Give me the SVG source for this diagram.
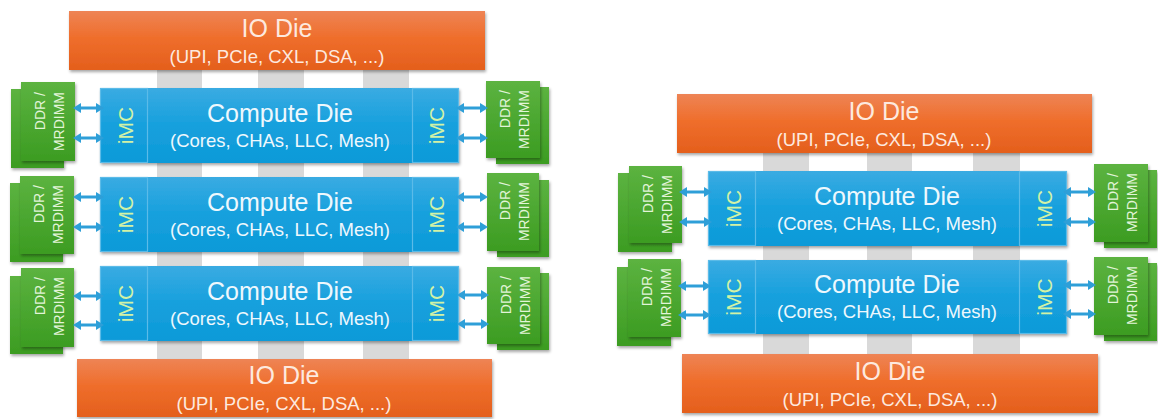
<svg xmlns="http://www.w3.org/2000/svg" width="1158" height="419" viewBox="0 0 1158 419">
<defs>
<linearGradient id="gOr" x1="0" y1="0" x2="0" y2="1"><stop offset="0" stop-color="#ee8455"/><stop offset="0.45" stop-color="#ef6e2c"/><stop offset="1" stop-color="#e45f1c"/></linearGradient>
<linearGradient id="gBl" x1="0" y1="0" x2="0" y2="1"><stop offset="0" stop-color="#3aabe2"/><stop offset="0.5" stop-color="#16a0dd"/><stop offset="1" stop-color="#0d9ad8"/></linearGradient>
<linearGradient id="gGr" x1="0" y1="0" x2="0" y2="1"><stop offset="0" stop-color="#5cb340"/><stop offset="1" stop-color="#3c9c22"/></linearGradient>
<filter id="sh" x="-10%" y="-10%" width="125%" height="130%"><feDropShadow dx="1" dy="2" stdDeviation="1.5" flood-color="#000" flood-opacity="0.35"/></filter>
<marker id="ah" viewBox="0 0 8 10" refX="1" refY="5" markerWidth="8" markerHeight="10" markerUnits="userSpaceOnUse" orient="auto-start-reverse"><path d="M0,0 L8,5 L0,10 Z" fill="#2e9fd8"/></marker>
</defs>
<style>
.io{fill:url(#gOr);filter:url(#sh)}
.cd{fill:url(#gBl);filter:url(#sh)}
.imc{fill:none;stroke:#5bbbe8;stroke-width:1.2}
.bar{fill:#d9d9d9}
.dimm{fill:url(#gGr);filter:url(#sh)}
.t1{font-family:"Liberation Sans",Arial,sans-serif;font-size:25px;text-anchor:middle}
.t2{font-family:"Liberation Sans",Arial,sans-serif;font-size:18.5px;text-anchor:middle}
.iot{fill:#fde9df}
.cdt{fill:#eef8fd}
.imct{font-family:"Liberation Sans",Arial,sans-serif;font-size:21px;text-anchor:middle;fill:#d2f2a6}
.dt{font-family:"Liberation Sans",Arial,sans-serif;font-size:14px;text-anchor:end;fill:#e2f4d8}
.arr{stroke:#2e9fd8;stroke-width:3;fill:none;marker-start:url(#ah);marker-end:url(#ah)}
</style>

<!-- Left diagram -->
<g id="L-bars">
<rect class="bar" x="157" y="70" width="45" height="289"/>
<rect class="bar" x="258" y="70" width="46" height="289"/>
<rect class="bar" x="363" y="70" width="46" height="289"/>
</g>
<g id="L-io-top">
<rect class="io" x="69" y="11" width="416" height="59"/>
<text class="t1 iot" x="277" y="37">IO Die</text>
<text class="t2 iot" x="277" y="63">(UPI, PCIe, CXL, DSA, ...)</text>
</g>
<g id="L-io-bot">
<rect class="io" x="77" y="359" width="415" height="58"/>
<text class="t1 iot" x="284" y="384">IO Die</text>
<text class="t2 iot" x="284" y="410">(UPI, PCIe, CXL, DSA, ...)</text>
</g>

<g id="L-cd1">
<rect class="cd" x="100" y="88" width="359" height="75"/>
<rect class="imc" x="100.5" y="88.5" width="47" height="74"/>
<rect class="imc" x="412.5" y="88.5" width="46" height="74"/>
<text class="t1 cdt" x="280" y="122">Compute Die</text>
<text class="t2 cdt" x="280" y="147">(Cores, CHAs, LLC, Mesh)</text>
<text class="imct" transform="translate(133,125.5) rotate(-90)">iMC</text>
<text class="imct" transform="translate(444,125.5) rotate(-90)">iMC</text>
</g>
<g id="L-cd2">
<rect class="cd" x="100" y="177" width="359" height="75"/>
<rect class="imc" x="100.5" y="177.5" width="47" height="74"/>
<rect class="imc" x="412.5" y="177.5" width="46" height="74"/>
<text class="t1 cdt" x="280" y="211">Compute Die</text>
<text class="t2 cdt" x="280" y="236">(Cores, CHAs, LLC, Mesh)</text>
<text class="imct" transform="translate(133,214.5) rotate(-90)">iMC</text>
<text class="imct" transform="translate(444,214.5) rotate(-90)">iMC</text>
</g>
<g id="L-cd3">
<rect class="cd" x="100" y="266" width="359" height="75"/>
<rect class="imc" x="100.5" y="266.5" width="47" height="74"/>
<rect class="imc" x="412.5" y="266.5" width="46" height="74"/>
<text class="t1 cdt" x="280" y="300">Compute Die</text>
<text class="t2 cdt" x="280" y="325">(Cores, CHAs, LLC, Mesh)</text>
<text class="imct" transform="translate(133,303.5) rotate(-90)">iMC</text>
<text class="imct" transform="translate(444,303.5) rotate(-90)">iMC</text>
</g>

<g id="L-dimm1l">
<rect class="dimm" x="11" y="89" width="53" height="79"/>
<rect class="dimm" x="21" y="82" width="54" height="79"/>
<text class="dt" transform="translate(45,92) rotate(-90)">DDR /</text>
<text class="dt" transform="translate(64,92) rotate(-90)">MRDIMM</text>
</g>
<g id="L-dimm2l">
<rect class="dimm" x="10" y="183" width="53" height="79"/>
<rect class="dimm" x="20" y="176" width="54" height="78"/>
<text class="dt" transform="translate(44,185) rotate(-90)">DDR /</text>
<text class="dt" transform="translate(63,185) rotate(-90)">MRDIMM</text>
</g>
<g id="L-dimm3l">
<rect class="dimm" x="10" y="276" width="53" height="78"/>
<rect class="dimm" x="21" y="268" width="53" height="79"/>
<text class="dt" transform="translate(45,277) rotate(-90)">DDR /</text>
<text class="dt" transform="translate(64,277) rotate(-90)">MRDIMM</text>
</g>
<g id="L-dimm1r">
<rect class="dimm" x="496" y="87" width="53" height="77"/>
<rect class="dimm" x="486" y="81" width="54" height="77"/>
<text class="dt" transform="translate(510,90) rotate(-90)">DDR /</text>
<text class="dt" transform="translate(529,90) rotate(-90)">MRDIMM</text>
</g>
<g id="L-dimm2r">
<rect class="dimm" x="497" y="180" width="52" height="77"/>
<rect class="dimm" x="487" y="173" width="52" height="78"/>
<text class="dt" transform="translate(510,182) rotate(-90)">DDR /</text>
<text class="dt" transform="translate(529,182) rotate(-90)">MRDIMM</text>
</g>
<g id="L-dimm3r">
<rect class="dimm" x="497" y="273" width="52" height="77"/>
<rect class="dimm" x="487" y="267" width="53" height="77"/>
<text class="dt" transform="translate(511,276) rotate(-90)">DDR /</text>
<text class="dt" transform="translate(530,276) rotate(-90)">MRDIMM</text>
</g>

<!-- Right diagram -->
<g id="R-bars">
<rect class="bar" x="763" y="153" width="46" height="201"/>
<rect class="bar" x="867" y="153" width="45" height="201"/>
<rect class="bar" x="973" y="153" width="47" height="201"/>
</g>
<g id="R-io-top">
<rect class="io" x="677" y="94" width="415" height="59"/>
<text class="t1 iot" x="884" y="120">IO Die</text>
<text class="t2 iot" x="884" y="146">(UPI, PCIe, CXL, DSA, ...)</text>
</g>
<g id="R-io-bot">
<rect class="io" x="682" y="354" width="416" height="59"/>
<text class="t1 iot" x="890" y="380">IO Die</text>
<text class="t2 iot" x="890" y="406">(UPI, PCIe, CXL, DSA, ...)</text>
</g>
<g id="R-cd1">
<rect class="cd" x="708" y="171" width="359" height="75"/>
<rect class="imc" x="708.5" y="171.5" width="47" height="74"/>
<rect class="imc" x="1019.5" y="171.5" width="47" height="74"/>
<text class="t1 cdt" x="887" y="205">Compute Die</text>
<text class="t2 cdt" x="887" y="230">(Cores, CHAs, LLC, Mesh)</text>
<text class="imct" transform="translate(741,208.5) rotate(-90)">iMC</text>
<text class="imct" transform="translate(1052,208.5) rotate(-90)">iMC</text>
</g>
<g id="R-cd2">
<rect class="cd" x="708" y="260" width="359" height="74"/>
<rect class="imc" x="708.5" y="260.5" width="47" height="73"/>
<rect class="imc" x="1019.5" y="260.5" width="47" height="73"/>
<text class="t1 cdt" x="887" y="293">Compute Die</text>
<text class="t2 cdt" x="887" y="318">(Cores, CHAs, LLC, Mesh)</text>
<text class="imct" transform="translate(741,297) rotate(-90)">iMC</text>
<text class="imct" transform="translate(1052,297) rotate(-90)">iMC</text>
</g>
<g id="R-dimm1l">
<rect class="dimm" x="618" y="173" width="54" height="79"/>
<rect class="dimm" x="629" y="166" width="53" height="77"/>
<text class="dt" transform="translate(653,175) rotate(-90)">DDR /</text>
<text class="dt" transform="translate(672,175) rotate(-90)">MRDIMM</text>
</g>
<g id="R-dimm2l">
<rect class="dimm" x="617" y="267" width="54" height="79"/>
<rect class="dimm" x="628" y="259" width="53" height="78"/>
<text class="dt" transform="translate(652,268) rotate(-90)">DDR /</text>
<text class="dt" transform="translate(671,268) rotate(-90)">MRDIMM</text>
</g>
<g id="R-dimm1r">
<rect class="dimm" x="1104" y="170" width="53" height="78"/>
<rect class="dimm" x="1094" y="164" width="54" height="78"/>
<text class="dt" transform="translate(1118,173) rotate(-90)">DDR /</text>
<text class="dt" transform="translate(1137,173) rotate(-90)">MRDIMM</text>
</g>
<g id="R-dimm2r">
<rect class="dimm" x="1104" y="263" width="53" height="78"/>
<rect class="dimm" x="1094" y="257" width="54" height="78"/>
<text class="dt" transform="translate(1118,266) rotate(-90)">DDR /</text>
<text class="dt" transform="translate(1137,266) rotate(-90)">MRDIMM</text>
</g>

<g id="connectors">
<line class="arr" x1="80" y1="108" x2="97" y2="108"/>
<line class="arr" x1="80" y1="138" x2="97" y2="138"/>
<line class="arr" x1="80" y1="197" x2="97" y2="197"/>
<line class="arr" x1="80" y1="227" x2="97" y2="227"/>
<line class="arr" x1="80" y1="296" x2="97" y2="296"/>
<line class="arr" x1="80" y1="325" x2="97" y2="325"/>
<line class="arr" x1="463" y1="108" x2="481" y2="108"/>
<line class="arr" x1="463" y1="138" x2="481" y2="138"/>
<line class="arr" x1="463" y1="197" x2="481" y2="197"/>
<line class="arr" x1="463" y1="227" x2="481" y2="227"/>
<line class="arr" x1="464" y1="295" x2="482" y2="295"/>
<line class="arr" x1="464" y1="324" x2="482" y2="324"/>
<line class="arr" x1="686" y1="192" x2="705" y2="192"/>
<line class="arr" x1="686" y1="222" x2="705" y2="222"/>
<line class="arr" x1="685" y1="286" x2="704" y2="286"/>
<line class="arr" x1="685" y1="315" x2="704" y2="315"/>
<line class="arr" x1="1070" y1="192" x2="1089" y2="192"/>
<line class="arr" x1="1070" y1="222" x2="1089" y2="222"/>
<line class="arr" x1="1070" y1="285" x2="1089" y2="285"/>
<line class="arr" x1="1070" y1="314" x2="1089" y2="314"/>
</g>
</svg>
